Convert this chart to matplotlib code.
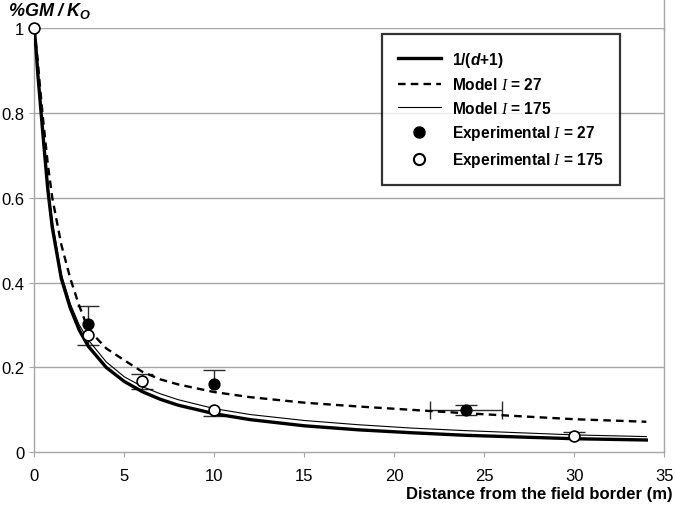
import numpy as np
import matplotlib.pyplot as plt
from matplotlib.lines import Line2D

plt.rcParams['font.family'] = ['Liberation Sans', 'DejaVu Sans']
plt.rcParams['mathtext.fontset'] = 'custom'
plt.rcParams['mathtext.it'] = 'Liberation Serif:italic'
plt.rcParams['mathtext.sf'] = 'Liberation Sans:bold:italic'
plt.rcParams['mathtext.rm'] = 'Liberation Sans:bold'

# curves
dist = [0, 0.1, 0.2, 0.3, 0.5, 0.75, 1, 1.5, 2, 2.5, 3, 4, 5, 6, 7, 8,
        10, 12, 15, 18, 21, 24, 27, 30, 34]
inv_d = [1, 0.95, 0.89, 0.84, 0.74, 0.62, 0.53, 0.41, 0.34, 0.288, 0.25, 0.2,
         0.167, 0.143, 0.125, 0.111, 0.091, 0.077, 0.0625, 0.053, 0.046,
         0.04, 0.036, 0.032, 0.029]
model_27 = [1, 0.96, 0.92, 0.87, 0.78, 0.68, 0.6, 0.49, 0.41, 0.345, 0.29,
            0.245, 0.217, 0.19, 0.172, 0.16, 0.142, 0.13, 0.117, 0.108, 0.1,
            0.092, 0.085, 0.078, 0.072]
model_175 = [1, 0.95, 0.895, 0.845, 0.75, 0.635, 0.545, 0.42, 0.35, 0.3,
             0.265, 0.213, 0.178, 0.155, 0.138, 0.124, 0.103, 0.089, 0.075,
             0.065, 0.057, 0.051, 0.046, 0.041, 0.037]

# experimental points (lower / upper error, x error)
exp27_d = [3, 10, 24]
exp27_y = [0.302, 0.161, 0.1]
exp27_lo = [0, 0, 0.013]
exp27_hi = [0.042, 0.034, 0.011]
exp27_xerr = [0, 0, 2]

exp175_d = [0, 3, 6, 10, 30]
exp175_y = [1.0, 0.276, 0.167, 0.1, 0.038]
exp175_lo = [0, 0.022, 0.017, 0.015, 0.0]
exp175_hi = [0, 0, 0.017, 0, 0.011]
exp175_xerr = [0, 0, 0, 0, 0]

err_c = '#2b2b2b'
grid_c = '#a6a6a6'


def draw_errors(ax, d, y, lo, hi, xerr):
    d, y, lo, hi, xerr = map(np.asarray, (d, y, lo, hi, xerr))
    has_v = (lo > 0) | (hi > 0)
    ax.vlines(d[has_v], (y - lo)[has_v], (y + hi)[has_v], color=err_c, lw=1, zorder=2)
    ax.plot(d[hi > 0], (y + hi)[hi > 0], ls='none', marker='_', ms=16,
            mew=1, color=err_c, zorder=2)
    ax.plot(d[lo > 0], (y - lo)[lo > 0], ls='none', marker='_', ms=16,
            mew=1, color=err_c, zorder=2)
    has_h = xerr > 0
    ax.hlines(y[has_h], (d - xerr)[has_h], (d + xerr)[has_h], color=err_c, lw=1, zorder=2)
    ax.plot(np.concatenate([(d - xerr)[has_h], (d + xerr)[has_h]]),
            np.concatenate([y[has_h], y[has_h]]), ls='none', marker='|', ms=13,
            mew=1, color=err_c, zorder=2)


fig = plt.figure(figsize=(6.75, 5.1), dpi=100)
ax = fig.add_axes([0.0508, 0.1112, 0.9334, 0.8313])

for yv in [0.2, 0.4, 0.6, 0.8, 1.0]:
    ax.axhline(yv, color=grid_c, lw=1.0, zorder=0)

ax.plot(dist, inv_d, color='black', lw=2.4, zorder=3)
ax.plot(dist, model_27, color='black', lw=1.7, ls=(0, (3.2, 2.2)), zorder=3)
ax.plot(dist, model_175, color='black', lw=0.8, zorder=3)

draw_errors(ax, exp27_d, exp27_y, exp27_lo, exp27_hi, exp27_xerr)
draw_errors(ax, exp175_d, exp175_y, exp175_lo, exp175_hi, exp175_xerr)

ax.plot(exp27_d, exp27_y, ls='none', marker='o', ms=7.8, mfc='black',
        mec='black', zorder=4, clip_on=False)
ax.plot(exp175_d, exp175_y, ls='none', marker='o', ms=7.8, mfc='white',
        mec='black', mew=1.2, zorder=5, clip_on=False)

ax.set_xlim(0, 35)
ax.set_ylim(0, 1)
ax.set_xticks([0, 5, 10, 15, 20, 25, 30, 35])
ax.set_yticks([0, 0.2, 0.4, 0.6, 0.8, 1.0])
ax.set_yticklabels(['0', '0.2', '0.4', '0.6', '0.8', '1'])
ax.tick_params(axis='both', direction='out', length=3.6, color=grid_c,
               labelsize=12)
ax.tick_params(axis='y', pad=3.5)
ax.tick_params(axis='x', pad=7.5)

ax.spines['top'].set_visible(False)
for side in ['left', 'bottom', 'right']:
    ax.spines[side].set_color(grid_c)
    ax.spines[side].set_linewidth(1.0)

# right border continues up to the top of the figure
fig.add_artist(Line2D([0.9842, 0.9842], [0.94, 1.0], color=grid_c, lw=1.0))

labels = ['1/($\\mathsf{d}$+1)', 'Model $I$ = 27', 'Model $I$ = 175',
          'Experimental $I$ = 27', 'Experimental $I$ = 175']
leg_handles = [
    Line2D([], [], color='black', lw=2.4),
    Line2D([], [], color='black', lw=1.7, ls=(0, (3.2, 2.2))),
    Line2D([], [], color='black', lw=0.8),
    Line2D([], [], ls='none', marker='o', ms=8, mfc='black', mec='black'),
    Line2D([], [], ls='none', marker='o', ms=8, mfc='white', mec='black', mew=1.5),
]
leg = ax.legend(leg_handles, labels, loc='upper left',
                bbox_to_anchor=(382 / 675, 1 - 35 / 510),
                bbox_transform=fig.transFigure, borderaxespad=0,
                frameon=True, fancybox=False, edgecolor='black',
                borderpad=1.0, handlelength=2.8, handletextpad=0.7,
                labelspacing=0.49, prop={'weight': 'bold', 'size': 11.2})
leg.get_frame().set_linewidth(1.6)
leg.set_zorder(10)

fig.text(0.012, 0.978, r'$\mathsf{\%GM\ /\ K_O}$', fontsize=13,
         ha='left', va='center')
fig.text(0.996, 0.03, 'Distance from the field border (m)', fontsize=12,
         fontweight='bold', ha='right', va='center')

fig.savefig('out.png', dpi=100)
